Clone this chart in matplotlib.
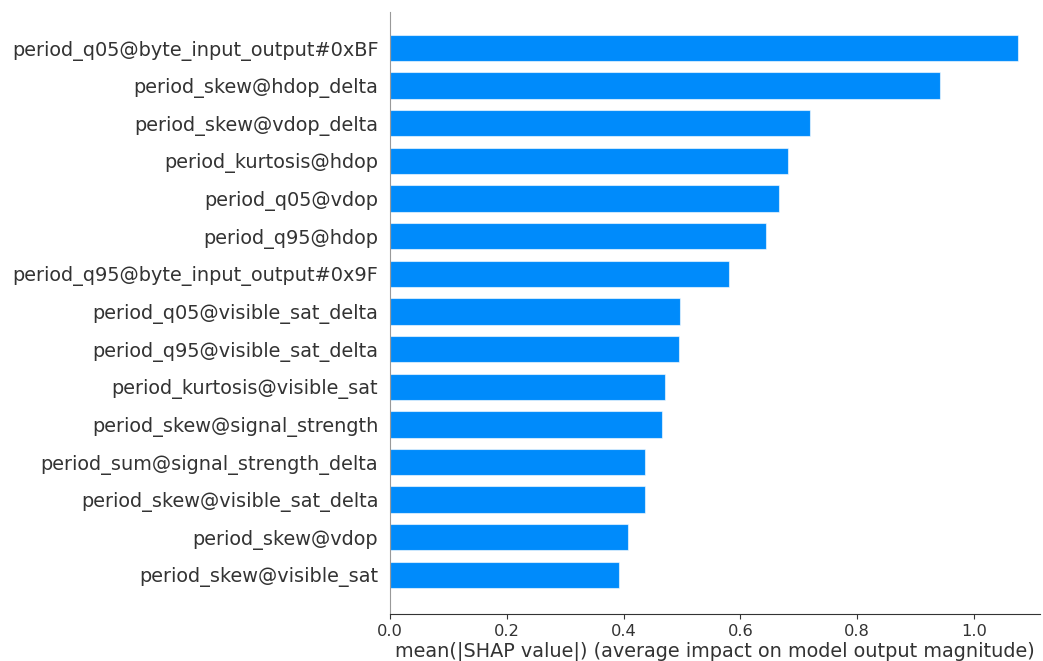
import matplotlib
matplotlib.use("Agg")
import matplotlib.pyplot as plt

# mean |SHAP| per feature, top to bottom
features = [
    "period_q05@byte_input_output#0xBF",
    "period_skew@hdop_delta",
    "period_skew@vdop_delta",
    "period_kurtosis@hdop",
    "period_q05@vdop",
    "period_q95@hdop",
    "period_q95@byte_input_output#0x9F",
    "period_q05@visible_sat_delta",
    "period_q95@visible_sat_delta",
    "period_kurtosis@visible_sat",
    "period_skew@signal_strength",
    "period_sum@signal_strength_delta",
    "period_skew@visible_sat_delta",
    "period_skew@vdop",
    "period_skew@visible_sat",
]
importance = [1.075, 0.942, 0.719, 0.682, 0.666, 0.644, 0.580, 0.497,
              0.495, 0.471, 0.466, 0.437, 0.437, 0.408, 0.392]

fig = plt.figure(figsize=(10.43, 6.61), dpi=100)
ax = fig.add_axes([0.374, 0.071, 0.623, 0.911])

n = len(features)
y_pos = list(range(n))[::-1]
ax.barh(y_pos, importance, height=0.7, color="#008bfb", align="center",
        edgecolor=(1, 1, 1, 0.6), linewidth=0.8)

ax.set_yticks(y_pos)
ax.set_yticklabels(features, fontsize=13.9, color="#333333")
ax.set_ylim(-1.04, n - 0.04)
ax.set_xlim(0, 1.113)

ax.xaxis.set_ticks_position("bottom")
ax.yaxis.set_ticks_position("none")
ax.tick_params(axis="y", pad=5)
ax.tick_params(axis="x", labelsize=11.7, labelcolor="#333333", color="#333333")
ax.spines["right"].set_visible(False)
ax.spines["top"].set_visible(False)
ax.spines["left"].set_color("#999999")
ax.spines["bottom"].set_color("#333333")
ax.set_xlabel("mean(|SHAP value|) (average impact on model output magnitude)",
              fontsize=13.9, color="#333333", labelpad=2)

fig.savefig("out.png", dpi=100)
